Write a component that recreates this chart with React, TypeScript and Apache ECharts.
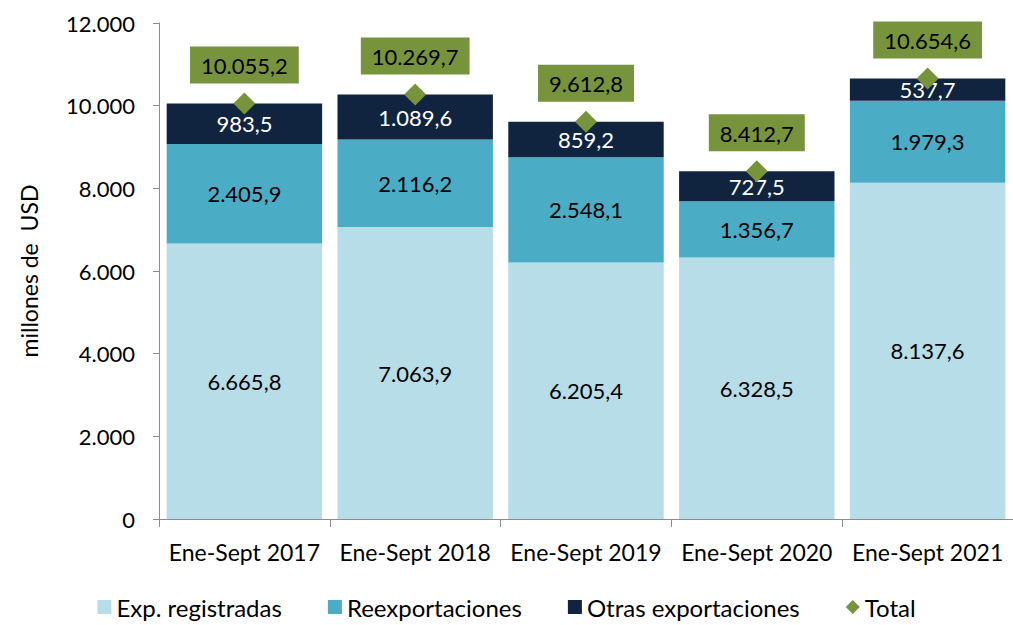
import React, { useEffect, useRef } from "react";
import * as echarts from "echarts";

const categories = ["Ene-Sept 2017", "Ene-Sept 2018", "Ene-Sept 2019", "Ene-Sept 2020", "Ene-Sept 2021"];
const expRegistradas = [6665.8, 7063.9, 6205.4, 6328.5, 8137.6];
const reexportaciones = [2405.9, 2116.2, 2548.1, 1356.7, 1979.3];
const otrasExportaciones = [983.5, 1089.6, 859.2, 727.5, 537.7];
const totals = [10055.2, 10269.7, 9612.8, 8412.7, 10654.6];

const FONT = "Lato, 'Open Sans', sans-serif";

function fmt(v: number, dec: number): string {
  const neg = v < 0;
  const s = Math.abs(v).toFixed(dec);
  const [ip, dp] = s.split(".");
  const withSep = ip.replace(/\B(?=(\d{3})+(?!\d))/g, ".");
  return (neg ? "-" : "") + withSep + (dp ? "," + dp : "");
}

export default function App() {
  const ref = useRef<HTMLDivElement>(null);
  useEffect(() => {
    if (!ref.current) return;
    const chart = echarts.init(ref.current, null, { renderer: "svg" });
    const barLabel = (color: string) => ({
      show: true,
      position: "inside" as const,
      color,
      fontSize: 22,
      fontFamily: FONT,
      formatter: (p: any) => fmt(p.value, 1),
    });
    chart.setOption({
      animation: false,
      textStyle: { fontFamily: FONT },
      grid: { left: 159, top: 23, width: 862, height: 496 },
      legend: {
        bottom: 1,
        left: "center",
        itemWidth: 14,
        itemHeight: 14,
        itemGap: 46,
        textStyle: { fontSize: 24, color: "#000", fontFamily: FONT },
        data: [
          { name: "Exp. registradas", icon: "rect" },
          { name: "Reexportaciones", icon: "rect" },
          { name: "Otras exportaciones", icon: "rect" },
          { name: "Total", icon: "diamond" },
        ],
      },
      xAxis: {
        type: "category",
        data: categories,
        axisLine: { lineStyle: { color: "#8c8c8c" } },
        axisTick: { show: true, length: 8, lineStyle: { color: "#8c8c8c" } },
        axisLabel: { interval: 0, fontSize: 23, color: "#000", fontFamily: FONT, margin: 21 },
      },
      yAxis: {
        type: "value",
        min: 0,
        max: 12000,
        interval: 2000,
        name: "millones de  USD",
        nameLocation: "middle",
        nameGap: 119,
        nameTextStyle: { fontSize: 23, color: "#000", fontFamily: FONT },
        axisLine: { show: true, lineStyle: { color: "#8c8c8c" } },
        axisTick: { show: true, length: 6, lineStyle: { color: "#8c8c8c" } },
        splitLine: { show: false },
        axisLabel: {
          fontSize: 22,
          color: "#000",
          fontFamily: FONT,
          margin: 24,
          formatter: (v: number) => fmt(v, 0),
        },
      },
      series: [
        {
          name: "Exp. registradas",
          type: "bar",
          stack: "t",
          barCategoryGap: "9%",
          data: expRegistradas,
          itemStyle: { color: "#B7DDE8" },
          label: barLabel("#000"),
        },
        {
          name: "Reexportaciones",
          type: "bar",
          stack: "t",
          data: reexportaciones,
          itemStyle: { color: "#4BACC6" },
          label: barLabel("#000"),
        },
        {
          name: "Otras exportaciones",
          type: "bar",
          stack: "t",
          data: otrasExportaciones,
          itemStyle: { color: "#10243F" },
          label: barLabel("#fff"),
        },
        {
          name: "Total",
          type: "scatter",
          symbol: "diamond",
          symbolSize: 22,
          z: 5,
          data: totals,
          itemStyle: { color: "#77933C", opacity: 1 },
          label: {
            show: true,
            position: "top",
            distance: 9,
            color: "#000",
            fontSize: 22,
            fontFamily: FONT,
            backgroundColor: "#77933C",
            padding: [8, 11, 7, 11],
            formatter: (p: any) => fmt(p.value, 1),
          },
        },
      ],
    });
    return () => chart.dispose();
  }, []);
  return (
    <div
      ref={ref}
      style={{ position: "absolute", left: 0, top: 0, width: 1013, height: 625 }}
    />
  );
}
